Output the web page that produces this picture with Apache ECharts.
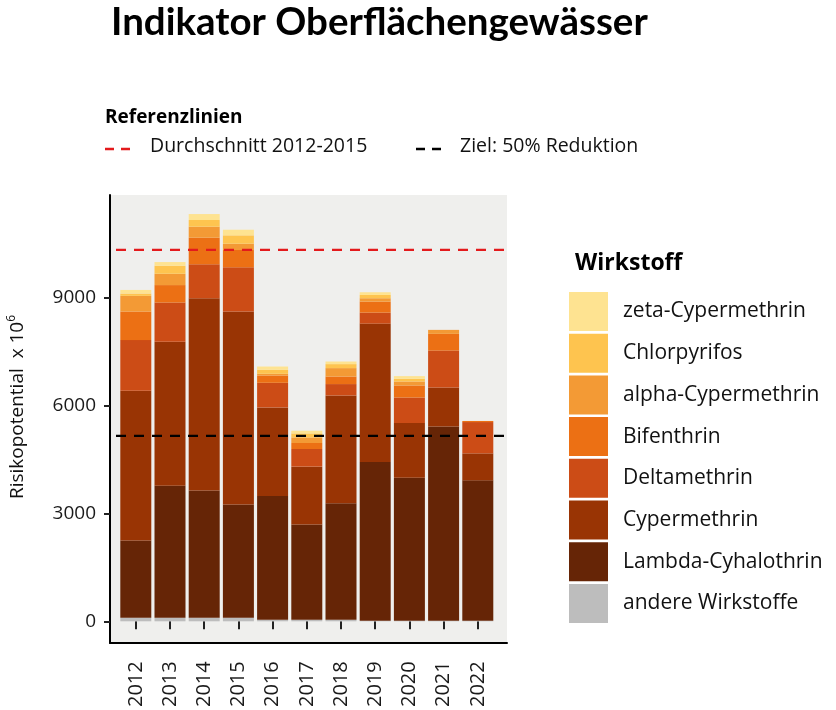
<!DOCTYPE html>
<html>
<head>
<meta charset="utf-8">
<script src="https://cdn.jsdelivr.net/npm/echarts@6/dist/echarts.min.js"></script>
<style>
html,body{margin:0;padding:0;background:#fff;}
#c{width:836px;height:710px;}
</style>
</head>
<body>
<div id="c"></div>
<script>
const years = ['2012','2013','2014','2015','2016','2017','2018','2019','2020','2021','2022'];
const andere = [100,100,100,100,40,40,40,15,15,15,15];
const lambda = [2150,3670,3535,3145,3447,2650,3242,4416,3980,5404,3905];
const cyper  = [4160,4005,5350,5367,2460,1610,2998,3848,1519,1083,750];
const delta  = [1410,1090,944,1233,685,492,317,305,710,1027,871];
const bif    = [795,485,738,480,203,166,210,306,334,464,30];
const alpha  = [435,315,306,175,47,156,234,94,111,111,0];
const chl    = [65,222,186,233,111,111,111,91,75,0,0];
const zeta   = [100,103,166,156,92,75,72,76,74,0,0];
const refAvg = 10333;
const refTarget = 5170;
const yTicks = [0,3000,6000,9000];

const FONT = 'Open Sans';
const stackDefs = [
  ['andere Wirkstoffe', andere, '#bdbdbd'],
  ['Lambda-Cyhalothrin', lambda, '#662506'],
  ['Cypermethrin', cyper, '#993404'],
  ['Deltamethrin', delta, '#cc4c16'],
  ['Bifenthrin', bif, '#ec7014'],
  ['alpha-Cypermethrin', alpha, '#f39a35'],
  ['Chlorpyrifos', chl, '#fec44f'],
  ['zeta-Cypermethrin', zeta, '#fee391']
];
const yMin = -583, yMax = 11855;

const series = stackDefs.map(d => ({
  name: d[0], type: 'bar', stack: 'tot', xAxisIndex: 1, yAxisIndex: 1,
  data: d[1], barWidth: 31, itemStyle: {color: d[2]}, emphasis: {disabled: true}
}));
series.push({
  name: 'Durchschnitt 2012-2015', type: 'line', xAxisIndex: 0, yAxisIndex: 0,
  data: [[0, refAvg], [1, refAvg]], symbol: 'none', silent: true,
  lineStyle: {color: '#e31a1c', width: 2.2, type: [10, 8], dashOffset: -6}, z: 5
});
series.push({
  name: 'Ziel: 50% Reduktion', type: 'line', xAxisIndex: 0, yAxisIndex: 0,
  data: [[0, refTarget], [1, refTarget]], symbol: 'none', silent: true,
  lineStyle: {color: '#000', width: 2.2, type: [10, 8], dashOffset: -6}, z: 5
});

const chart = echarts.init(document.getElementById('c'));
chart.setOption({
  animation: false,
  textStyle: {fontFamily: FONT},
  title: [
    {text: 'Indikator Oberflächengewässer', left: 106, top: -2,
     textStyle: {fontFamily: 'Lato', fontSize: 38.5, fontWeight: 'bold', color: '#000'}},
    {text: 'Wirkstoff', left: 570, top: 247,
     textStyle: {fontFamily: FONT, fontSize: 23, fontWeight: 'bold', color: '#000'}}
  ],
  grid: [
    {left: 110, top: 195, width: 397, height: 448, show: true, backgroundColor: '#efefed', borderWidth: 0},
    {left: 118.7, top: 195, width: 376.2, height: 448}
  ],
  xAxis: [
    {gridIndex: 0, type: 'value', min: 0, max: 1, axisLabel: {show: false}, axisTick: {show: false},
     splitLine: {show: false}, axisLine: {show: true, onZero: false, lineStyle: {color: '#000', width: 2}}},
    {gridIndex: 1, type: 'category', data: years, axisLine: {show: false},
     axisTick: {show: true, alignWithLabel: true, length: 8, lineStyle: {color: '#222', width: 2}},
     axisLabel: {rotate: 90, fontSize: 20, color: '#1a1a1a', margin: 19, fontFamily: FONT}}
  ],
  yAxis: [
    {gridIndex: 0, type: 'value', min: yMin, max: yMax,
     axisLine: {show: true, lineStyle: {color: '#000', width: 2}},
     axisTick: {show: true, length: 6, customValues: yTicks, lineStyle: {color: '#222', width: 2}},
     axisLabel: {customValues: yTicks, fontSize: 19, color: '#1a1a1a', margin: 14, fontFamily: FONT,
       formatter: v => String(v)},
     splitLine: {show: false},
     name: '{a|Risikopotential  x 10}{s|6}', nameLocation: 'middle', nameGap: 80, nameRotate: 90,
     nameTextStyle: {padding: [0,0,0,24], rich: {a: {fontSize: 19, color: '#111', fontFamily: FONT}, s: {fontSize: 12, color: '#111', verticalAlign: 'top', padding: [0,0,12,0], fontFamily: FONT}}}
    },
    {gridIndex: 1, type: 'value', min: yMin, max: yMax, show: false, splitLine: {show: false}}
  ],
  legend: {
    orient: 'vertical', left: 569, top: 292, padding: 0,
    itemWidth: 39, itemHeight: 39, itemGap: 2.7, icon: 'rect',
    data: ['zeta-Cypermethrin','Chlorpyrifos','alpha-Cypermethrin','Bifenthrin','Deltamethrin','Cypermethrin','Lambda-Cyhalothrin','andere Wirkstoffe'],
    textStyle: {fontSize: 21, color: '#111', fontFamily: FONT, padding: [0,0,0,10]},
    selectedMode: false
  },
  graphic: [
    {type: 'text', left: 105, top: 108, style: {text: 'Referenzlinien', font: 'bold 19px "Open Sans"', fill: '#000'}},
    {type: 'line', shape: {x1: 105, y1: 149, x2: 130, y2: 149}, style: {stroke: '#e31a1c', lineWidth: 2.5, lineDash: [9, 7]}},
    {type: 'text', left: 150, top: 136, style: {text: 'Durchschnitt 2012-2015', font: '19.5px "Open Sans"', fill: '#111'}},
    {type: 'line', shape: {x1: 416, y1: 149, x2: 441, y2: 149}, style: {stroke: '#000', lineWidth: 2.5, lineDash: [9, 7]}},
    {type: 'text', left: 460, top: 136, style: {text: 'Ziel: 50% Reduktion', font: '19.5px "Open Sans"', fill: '#111'}}
  ],
  series: series
});
</script>
</body>
</html>
